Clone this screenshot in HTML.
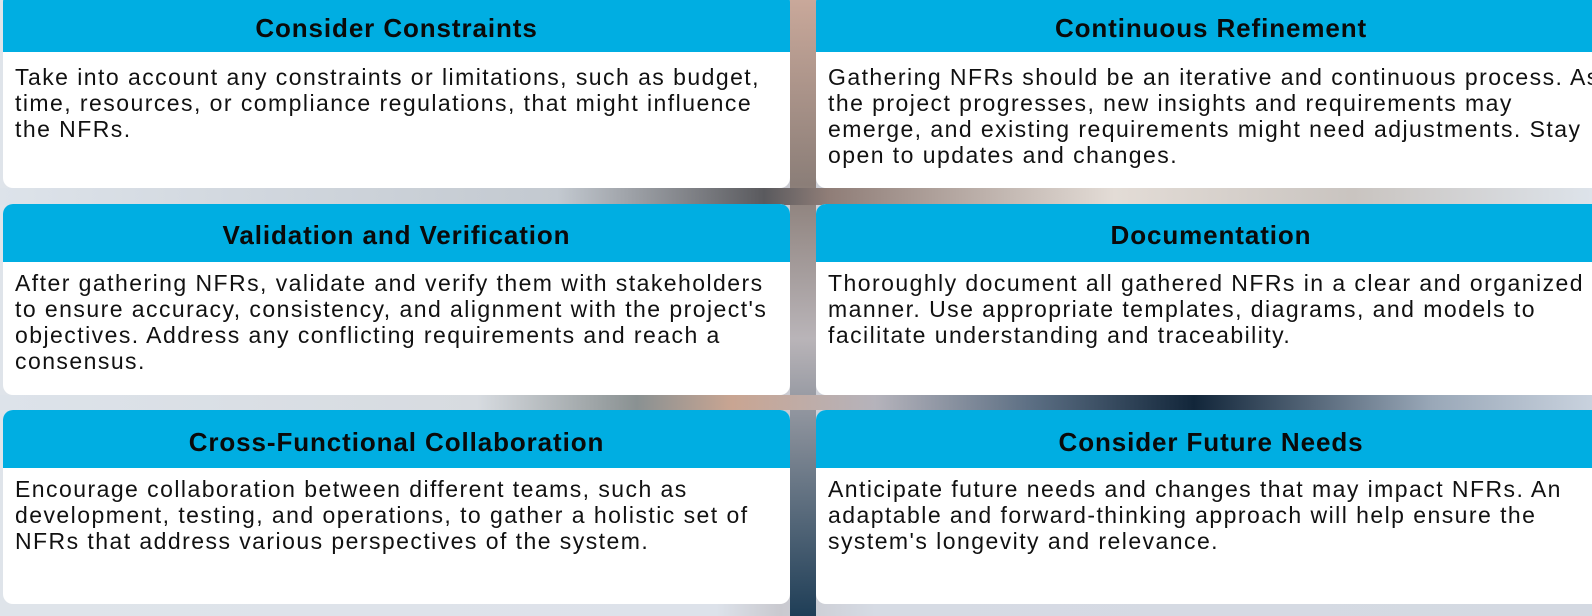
<!DOCTYPE html>
<html><head><meta charset="utf-8">
<style>
html,body{margin:0;padding:0}
body{width:1592px;height:616px;overflow:hidden;position:relative;
background:linear-gradient(90deg,#dfe4ea 0%,#dde2ea 45%,#c9c9cf 49%,#d6dbe4 55%,#d4d9e2 100%);
font-family:"Liberation Sans",sans-serif}
.bg{position:absolute}
.card{position:absolute;background:#fff;border-radius:10px;overflow:hidden}
.hd{background:#00aee2;color:#0a0a0a;font-weight:bold;font-size:26px;letter-spacing:0.9px;text-align:center;box-sizing:border-box}
.bd{font-size:23px;line-height:26px;color:#111;padding:8px 0 0 12px;letter-spacing:1.45px;white-space:nowrap}
</style></head><body>
<div class="bg" style="left:790px;top:0;width:26px;height:616px;background:linear-gradient(180deg,#c9a89a 0%,#8b7e78 30%,#b9b4b8 55%,#1f3e57 100%)"></div>
<div class="bg" style="left:0;top:188px;width:1592px;height:17px;background:linear-gradient(90deg,#dde3ea 0%,#c3c9d0 35%,#5a5a5e 48%,#8f7d77 52%,#e3dcd6 70%,#c9c4c0 85%,#dde3ea 100%)"></div>
<div class="bg" style="left:0;top:395px;width:1592px;height:15px;background:linear-gradient(90deg,#dde3ea 0%,#d7dbe0 30%,#8a9192 40%,#c9a592 46%,#b5b3bb 55%,#5a6d82 65%,#12263a 75%,#9aa8b8 90%,#c9d2de 100%)"></div>

<div class="card" style="left:3px;top:-8px;width:787px;height:196px">
<div class="hd" style="height:60px;padding-top:21px">Consider Constraints</div>
<div class="bd" style="padding-top:12px">Take into account any constraints or limitations, such as budget,<br>time, resources, or compliance regulations, that might influence<br>the NFRs.</div></div>

<div class="card" style="left:816px;top:-8px;width:790px;height:196px">
<div class="hd" style="height:60px;padding-top:21px">Continuous Refinement</div>
<div class="bd" style="padding-top:12px">Gathering NFRs should be an iterative and continuous process. As<br>the project progresses, new insights and requirements may<br>emerge, and existing requirements might need adjustments. Stay<br>open to updates and changes.</div></div>

<div class="card" style="left:3px;top:204px;width:787px;height:191px">
<div class="hd" style="height:58px;padding-top:16px">Validation and Verification</div>
<div class="bd">After gathering NFRs, validate and verify them with stakeholders<br>to ensure accuracy, consistency, and alignment with the project's<br>objectives. Address any conflicting requirements and reach a<br>consensus.</div></div>

<div class="card" style="left:816px;top:204px;width:790px;height:191px">
<div class="hd" style="height:58px;padding-top:16px">Documentation</div>
<div class="bd">Thoroughly document all gathered NFRs in a clear and organized<br>manner. Use appropriate templates, diagrams, and models to<br>facilitate understanding and traceability.</div></div>

<div class="card" style="left:3px;top:410px;width:787px;height:194px">
<div class="hd" style="height:58px;padding-top:17px">Cross-Functional Collaboration</div>
<div class="bd">Encourage collaboration between different teams, such as<br>development, testing, and operations, to gather a holistic set of<br>NFRs that address various perspectives of the system.</div></div>

<div class="card" style="left:816px;top:410px;width:790px;height:194px">
<div class="hd" style="height:58px;padding-top:17px">Consider Future Needs</div>
<div class="bd">Anticipate future needs and changes that may impact NFRs. An<br>adaptable and forward-thinking approach will help ensure the<br>system's longevity and relevance.</div></div>
</body></html>
